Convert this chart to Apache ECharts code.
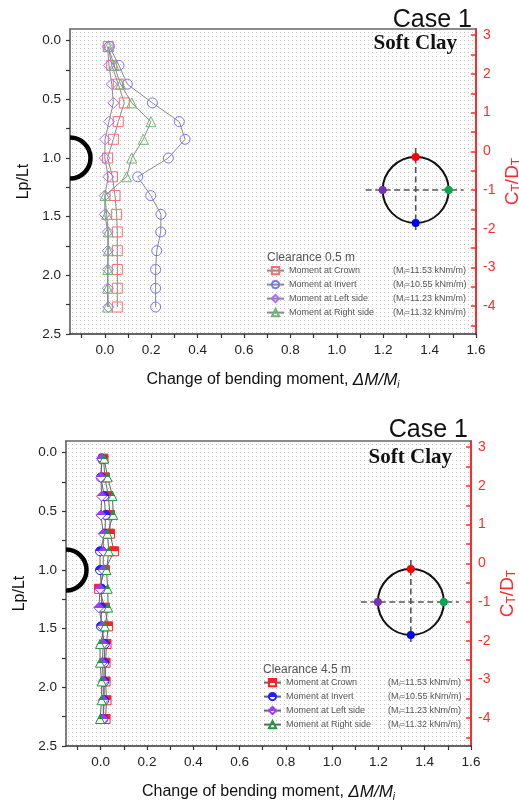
<!DOCTYPE html>
<html>
<head>
<meta charset="utf-8">
<script src="https://cdn.jsdelivr.net/npm/echarts@6/dist/echarts.min.js"></script>
<style>
  html, body { margin: 0; padding: 0; background: #fff; }
  #chart { width: 519px; height: 802px; }
</style>
</head>
<body>
<div id="chart"></div>
<script>
// Depth ratio along the pile (Lp/Lt) for every measuring point
const depthRatio = [0.05, 0.21, 0.37, 0.53, 0.69, 0.84, 1.00, 1.16, 1.32, 1.48, 1.63, 1.79, 1.95, 2.11, 2.27];

// Change of bending moment, clearance 0.5 m
const crown05  = [0.015, 0.030, 0.058, 0.084, 0.058, 0.037, 0.012, 0.033, 0.044, 0.051, 0.054, 0.054, 0.054, 0.054, 0.054];
const invert05 = [0.020, 0.061, 0.097, 0.205, 0.321, 0.346, 0.274, 0.142, 0.198, 0.242, 0.241, 0.224, 0.219, 0.219, 0.219];
const left05   = [0.012, 0.018, 0.030, 0.037, 0.018, 0.001, 0.000, 0.015, 0.000, 0.000, 0.013, 0.013, 0.013, 0.013, 0.015];
const right05  = [0.015, 0.040, 0.068, 0.116, 0.199, 0.166, 0.116, 0.094, 0.001, 0.008, 0.015, 0.015, 0.013, 0.012, 0.012];

// Change of bending moment, clearance 4.5 m
const crown45  = [0.012, 0.018, 0.033, 0.040, 0.040, 0.058, 0.018, -0.007, 0.018, 0.032, 0.025, 0.021, 0.021, 0.025, 0.021];
const invert45 = [0.006, 0.001, 0.015, 0.021, 0.018, -0.003, -0.003, 0.004, 0.004, 0.001, 0.018, 0.015, 0.015, 0.015, 0.011];
const left45   = [0.004, 0.001, 0.004, 0.001, 0.011, 0.011, 0.011, -0.003, -0.008, 0.007, 0.011, 0.007, 0.011, 0.011, 0.011];
const right45  = [0.015, 0.030, 0.051, 0.054, 0.029, 0.035, 0.025, 0.030, 0.032, 0.018, -0.003, -0.003, 0.004, 0.004, -0.003];

const momentLabels = ['Moment at Crown', 'Moment at Invert', 'Moment at Left side', 'Moment at Right side'];
const initialMoments = ['11.53', '10.55', '11.23', '11.32'];
const clearances = ['0.5', '4.5'];

// Tick positions and labels
const xTickValues = [-0.1, 0, 0.1, 0.2, 0.3, 0.4, 0.5, 0.6, 0.7, 0.8, 0.9, 1.0, 1.1, 1.2, 1.3, 1.4, 1.5, 1.6];
const xLabelValues = [0, 0.2, 0.4, 0.6, 0.8, 1.0, 1.2, 1.4, 1.6];
const yTickValues = [0, 0.25, 0.5, 0.75, 1.0, 1.25, 1.5, 1.75, 2.0, 2.25, 2.5];
const yLabelValues = [0, 0.5, 1.0, 1.5, 2.0, 2.5];
const ctTickValues = [-4.5, -4, -3.5, -3, -2.5, -2, -1.5, -1, -0.5, 0, 0.5, 1, 1.5, 2, 2.5, 3];
const ctLabelValues = [-4, -3, -2, -1, 0, 1, 2, 3];

const SANS = 'Liberation Sans, Arial, sans-serif';
const SERIF = 'Liberation Serif, Times New Roman, serif';
const RED_AXIS = '#ff2b2b';

// dotted plot background
const dotCanvas = document.createElement('canvas');
dotCanvas.width = 4; dotCanvas.height = 4;
const dctx = dotCanvas.getContext('2d');
dctx.fillStyle = '#c8c8c8';
dctx.fillRect(0, 0, 1, 1);
const dotFill = { image: dotCanvas, repeat: 'repeat' };

const gridBoxes = [
  { left: 70, top: 29, width: 406, height: 305 },
  { left: 66, top: 441, width: 405, height: 305 }
];

const hollowColors = ['#ff6b6b', '#7474ff', '#b06cff', '#6cb86c'];
const solidColors = ['#ff2020', '#2020ff', '#9b3cff', '#1f9a3a'];
const symbols = ['rect', 'circle', 'diamond', 'triangle'];

function halfFill(c) {
  return {
    type: 'linear', x: 0, y: 0, x2: 0, y2: 1,
    colorStops: [
      { offset: 0, color: c }, { offset: 0.5, color: c },
      { offset: 0.5, color: '#ffffff' }, { offset: 1, color: '#ffffff' }
    ]
  };
}

function pairs(xs) { return xs.map((v, i) => [v, depthRatio[i]]); }

const grids = gridBoxes.map(b => Object.assign({
  show: true, backgroundColor: dotFill, borderWidth: 0,
  containLabel: false, outerBoundsMode: 'none'
}, b));

const xAxes = [];
const yAxes = [];
gridBoxes.forEach((b, p) => {
  xAxes.push({
    gridIndex: p, type: 'value', position: 'bottom', min: -0.15, max: 1.6,
    axisLine: { show: true, onZero: false, lineStyle: { color: '#333', width: 1.5 } },
    axisTick: { show: true, customValues: xTickValues, length: 4, lineStyle: { color: '#333', width: 1.2 } },
    axisLabel: { customValues: xLabelValues, formatter: v => v.toFixed(1), fontSize: 13.5, color: '#222', fontFamily: SANS, margin: 9 },
    splitLine: { show: false },
    name: 'Change of bending moment, {i|ΔM/M}{s|i}',
    nameLocation: 'middle', nameGap: 36,
    nameTextStyle: {
      fontSize: 16, color: '#111', fontFamily: SANS,
      rich: {
        i: { fontSize: 17, fontStyle: 'italic', color: '#111', fontFamily: SANS },
        s: { fontSize: 10, fontStyle: 'italic', color: '#111', fontFamily: SANS, verticalAlign: 'bottom', padding: [10, 0, 0, 0] }
      }
    }
  });
  xAxes.push({
    gridIndex: p, type: 'value', position: 'top', min: -0.15, max: 1.6,
    axisLine: { show: true, onZero: false, lineStyle: { color: '#666', width: 1.5 } },
    axisTick: { show: false }, axisLabel: { show: false }, splitLine: { show: false }
  });
  yAxes.push({
    gridIndex: p, type: 'value', position: 'left', inverse: true, min: -0.1, max: 2.5,
    axisLine: { show: true, onZero: false, lineStyle: { color: '#555', width: 1.5 } },
    axisTick: { show: true, customValues: yTickValues, length: 4, lineStyle: { color: '#333', width: 1.2 } },
    axisLabel: { customValues: yLabelValues, formatter: v => v.toFixed(1), fontSize: 13.5, color: '#222', fontFamily: SANS, margin: 9 },
    splitLine: { show: false },
    name: 'Lp/Lt', nameLocation: 'middle', nameRotate: 90, nameGap: 38,
    nameTextStyle: { fontSize: 16, color: '#111', fontFamily: SANS }
  });
  yAxes.push({
    gridIndex: p, type: 'value', position: 'right', min: -4.72, max: 3.16,
    axisLine: { show: true, onZero: false, lineStyle: { color: RED_AXIS, width: 2 } },
    axisTick: { show: true, inside: true, customValues: ctTickValues, length: 5, lineStyle: { color: RED_AXIS, width: 1.5 } },
    axisLabel: { customValues: ctLabelValues, formatter: v => String(v), fontSize: 14, color: RED_AXIS, fontFamily: SANS, margin: 7 },
    splitLine: { show: false },
    name: '{c|C}{s|T}{c|/D}{s|T}', nameLocation: 'middle', nameRotate: 90, nameGap: 26,
    nameMoveOverlap: false,
    nameTextStyle: {
      color: RED_AXIS, fontFamily: SANS,
      rich: {
        c: { fontSize: 19, color: RED_AXIS, fontFamily: SANS },
        s: { fontSize: 12, color: RED_AXIS, fontFamily: SANS, verticalAlign: 'bottom', padding: [9, 0, 0, 0] }
      }
    }
  });
});

const panelData = [
  [crown05, invert05, left05, right05],
  [crown45, invert45, left45, right45]
];

const series = [];
const legendNames = [[], []];
panelData.forEach((set, p) => {
  set.forEach((vals, k) => {
    const nm = momentLabels[k] + ' (' + clearances[p] + ' m)';
    legendNames[p].push(nm);
    series.push({
      name: nm, type: 'line', xAxisIndex: p * 2, yAxisIndex: p * 2,
      data: pairs(vals),
      symbol: symbols[k],
      symbolSize: p === 0 ? (k === 2 ? 11 : 10) : (k === 2 ? 10 : 9),
      showSymbol: true,
      lineStyle: { color: p === 0 ? '#8a8a8a' : '#666', width: 1 },
      itemStyle: p === 0
        ? { color: 'rgba(255,255,255,0)', borderColor: hollowColors[k], borderWidth: 1 }
        : { color: halfFill(solidColors[k]), borderColor: solidColors[k], borderWidth: 1 },
      emphasis: { disabled: true },
      animation: false,
      z: 3 + k
    });
  });
});

function legendFor(p, left, top, labelWidth) {
  return {
    orient: 'vertical', left: left, top: top,
    itemWidth: 17, itemHeight: 9, itemGap: 4.4,
    selectedMode: false,
    data: legendNames[p],
    formatter: name => {
      const k = legendNames[p].indexOf(name);
      return '{a|' + momentLabels[k] + '}{b|(M}{s|i}{b|=' + initialMoments[k] + ' kNm/m)}';
    },
    textStyle: {
      fontSize: 9, color: '#555', fontFamily: SANS,
      rich: {
        a: { width: labelWidth, fontSize: 9, color: '#555', fontFamily: SANS },
        b: { fontSize: 9, color: '#555', fontFamily: SANS },
        s: { fontSize: 6, color: '#555', fontFamily: SANS, verticalAlign: 'bottom', padding: [4, 0, 0, 0] }
      }
    }
  };
}

const titles = [
  { text: 'Case 1', right: 42, top: 3, textStyle: { fontSize: 25, fontWeight: 'normal', color: '#111', fontFamily: SANS } },
  { text: 'Soft Clay', right: 57, top: 28, textStyle: { fontSize: 21, fontWeight: 'bold', color: '#111', fontFamily: SERIF } },
  { text: 'Clearance ' + clearances[0] + ' m', left: 262, top: 247, textStyle: { fontSize: 12, fontWeight: 'normal', color: '#555', fontFamily: SANS } },
  { text: 'Case 1', right: 46, top: 413, textStyle: { fontSize: 25, fontWeight: 'normal', color: '#111', fontFamily: SANS } },
  { text: 'Soft Clay', right: 62, top: 442, textStyle: { fontSize: 21, fontWeight: 'bold', color: '#111', fontFamily: SERIF } },
  { text: 'Clearance ' + clearances[1] + ' m', left: 258, top: 659, textStyle: { fontSize: 12, fontWeight: 'normal', color: '#555', fontFamily: SANS } }
];

const chart = echarts.init(document.getElementById('chart'), null, { renderer: 'canvas' });
chart.setOption({
  backgroundColor: '#ffffff',
  animation: false,
  textStyle: { fontFamily: SANS },
  title: titles,
  grid: grids,
  xAxis: xAxes,
  yAxis: yAxes,
  legend: [legendFor(0, 261, 261, 104), legendFor(1, 258, 673, 102)],
  series: series
});

// Tunnel sketch on the pile axis and cross-section key with the four gauge positions
function decorations() {
  const els = [];
  const keyColors = ['#ff0000', '#0000ff', '#7a2fb8', '#00a84f'];
  [0, 1].forEach(p => {
    const ax = chart.convertToPixel({ xAxisIndex: p * 2 }, -0.15);
    const ay = chart.convertToPixel({ yAxisIndex: p * 2 }, 1.0);
    els.push({
      type: 'arc', z: 20,
      shape: { cx: ax, cy: ay, r: 20.5, startAngle: -Math.PI / 2, endAngle: Math.PI / 2, clockwise: true },
      style: { stroke: '#000', lineWidth: 4.5, fill: null }
    });
    const cx = chart.convertToPixel({ xAxisIndex: p * 2 }, 1.34);
    const cy = chart.convertToPixel({ yAxisIndex: p * 2 + 1 }, -1);
    const r = 33;
    els.push({ type: 'line', z: 20, shape: { x1: cx - 50, y1: cy, x2: cx + 48, y2: cy },
      style: { stroke: '#555', lineWidth: 1.6, lineDash: [6, 3.5] } });
    els.push({ type: 'line', z: 20, shape: { x1: cx, y1: cy - 42, x2: cx, y2: cy + 40 },
      style: { stroke: '#555', lineWidth: 1.6, lineDash: [6, 3.5] } });
    els.push({ type: 'circle', z: 21, shape: { cx: cx, cy: cy, r: r },
      style: { stroke: '#111', lineWidth: 2, fill: null } });
    const spots = [[0, -r], [0, r], [-r, 0], [r, 0]];
    spots.forEach((s, k) => {
      els.push({ type: 'circle', z: 22, shape: { cx: cx + s[0], cy: cy + s[1], r: 4 },
        style: { fill: keyColors[k], stroke: null } });
    });
  });
  chart.setOption({ graphic: els });
}
decorations();
</script>
</body>
</html>
